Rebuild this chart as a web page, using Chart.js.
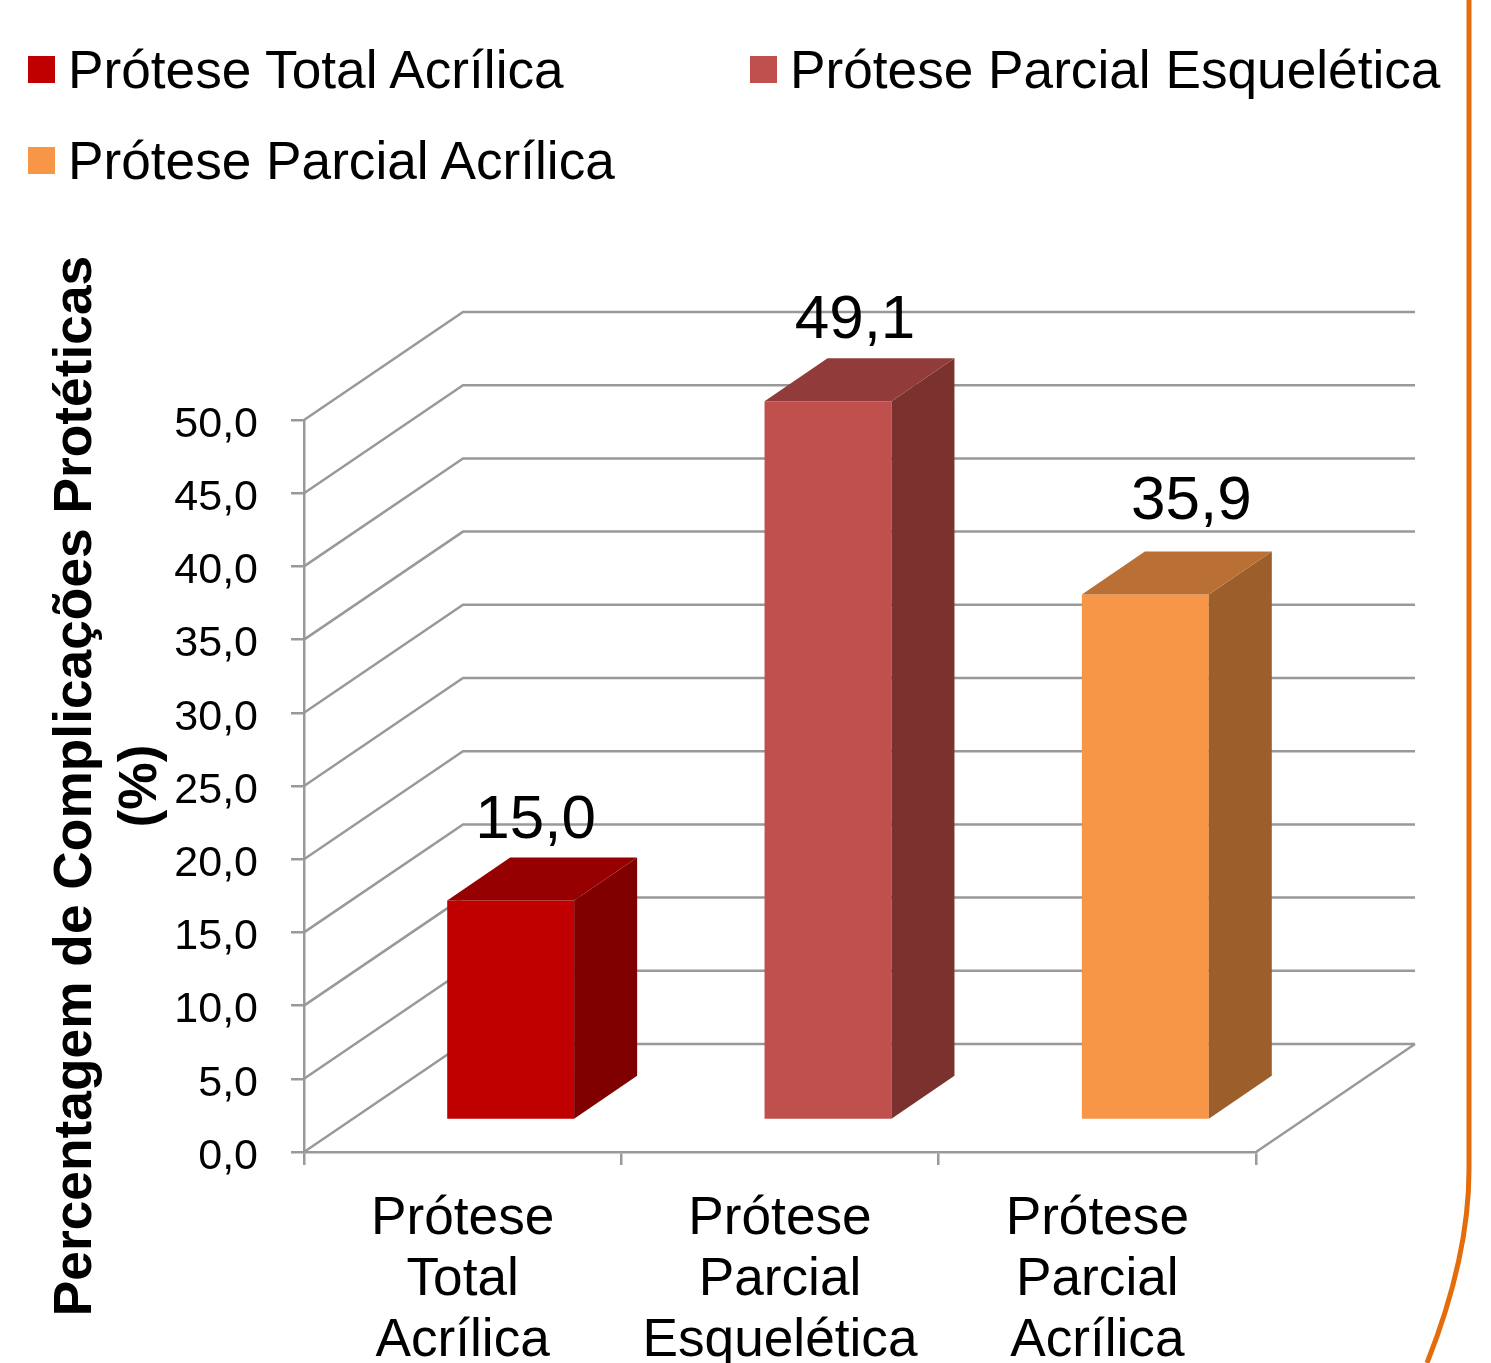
<!DOCTYPE html>
<html>
<head>
<meta charset="utf-8">
<title>Complicações Protéticas</title>
<script src="https://cdn.jsdelivr.net/npm/chart.js@4"></script>
<style>
  html, body { margin: 0; padding: 0; background: #fff; overflow: hidden; }
  canvas { display: block; }
</style>
</head>
<body>
<canvas id="chart" width="1491" height="1363"></canvas>
<script>
const categories = [
  ["Prótese", "Total", "Acrílica"],
  ["Prótese", "Parcial", "Esquelética"],
  ["Prótese", "Parcial", "Acrílica"],
];
const legendNames = ["Prótese Total Acrílica", "Prótese Parcial Esquelética", "Prótese Parcial Acrílica"];
const values = [15.0, 49.1, 35.9];
const frontColors = ["#C00000", "#C0504D", "#F79646"];
const sideColors = ["#800000", "#7B322F", "#9C5F2C"];
const topColors = ["#960000", "#913C3A", "#BA7035"];

const fontFamily = '"Liberation Sans", Arial, sans-serif';
const lineGray = "#999999";
const lineW = 2.5;

// depth of the 3d box and where the bar sits in it
const wallDx = 159, wallDy = 108;
const barDx = 48, barDy = 32;
const capDx = 63, capDy = 43;

const comma = (v) => v.toFixed(1).replace(".", ",");

const box3d = {
  id: "box3d",
  beforeDatasetsDraw(chart) {
    const { ctx, chartArea: a, scales: { y } } = chart;
    ctx.save();
    ctx.strokeStyle = lineGray;
    ctx.lineWidth = lineW;
    y.ticks.forEach((t) => {
      const py = y.getPixelForValue(t.value);
      ctx.beginPath();
      ctx.moveTo(a.left, py);
      ctx.lineTo(a.left + wallDx, py - wallDy);
      ctx.lineTo(a.right + wallDx, py - wallDy);
      ctx.stroke();
    });
    ctx.beginPath();
    ctx.moveTo(a.right, a.bottom);
    ctx.lineTo(a.right + wallDx, a.bottom - wallDy);
    ctx.stroke();
    ctx.restore();
  },
  beforeDatasetDraw(chart) {
    chart.ctx.save();
    chart.ctx.translate(barDx, -barDy);
  },
  afterDatasetDraw(chart, args) {
    const ctx = chart.ctx;
    args.meta.data.forEach((bar, i) => {
      const p = bar.getProps(["x", "y", "base", "width"], true);
      const l = p.x - p.width / 2, r = p.x + p.width / 2;
      ctx.fillStyle = sideColors[i];
      ctx.beginPath();
      ctx.moveTo(r, p.y);
      ctx.lineTo(r + capDx, p.y - capDy);
      ctx.lineTo(r + capDx, p.base - capDy);
      ctx.lineTo(r, p.base);
      ctx.closePath();
      ctx.fill();
      ctx.fillStyle = topColors[i];
      ctx.beginPath();
      ctx.moveTo(l, p.y);
      ctx.lineTo(l + capDx, p.y - capDy);
      ctx.lineTo(r + capDx, p.y - capDy);
      ctx.lineTo(r, p.y);
      ctx.closePath();
      ctx.fill();
    });
    ctx.restore();
  },
};

// value labels, nudged by hand like the original slide
const labelNudgeX = [25, 27, 46];
const labelNudgeY = [79, 80, 93];
const valueLabels = {
  id: "valueLabels",
  afterDatasetsDraw(chart) {
    const { ctx } = chart;
    const meta = chart.getDatasetMeta(0);
    ctx.save();
    ctx.fillStyle = "#000";
    ctx.font = "62px " + fontFamily;
    ctx.textAlign = "center";
    ctx.textBaseline = "middle";
    meta.data.forEach((bar, i) => {
      ctx.fillText(comma(values[i]), bar.x + barDx + labelNudgeX[i], bar.y - barDy - labelNudgeY[i]);
    });
    ctx.restore();
  },
};

// two column legend and the slide's orange border
const legendSpots = [[28, 88], [750, 88], [28, 179]];
const slideDecor = {
  id: "slideDecor",
  afterDraw(chart) {
    const { ctx } = chart;
    ctx.save();
    ctx.font = "53.2px " + fontFamily;
    ctx.fontKerning = "normal";
    ctx.textBaseline = "alphabetic";
    ctx.textAlign = "left";
    legendNames.forEach((name, i) => {
      const [x, base] = legendSpots[i];
      ctx.fillStyle = frontColors[i];
      ctx.fillRect(x, base - 32, 27, 27);
      ctx.fillStyle = "#000";
      ctx.fillText(name, x + 40, base);
    });
    ctx.strokeStyle = "#E46C0A";
    ctx.lineWidth = 5;
    ctx.beginPath();
    ctx.moveTo(1469, 0);
    ctx.lineTo(1469, 1170);
    ctx.bezierCurveTo(1469, 1240, 1450, 1305, 1427, 1363);
    ctx.stroke();
    ctx.restore();
  },
};

new Chart(document.getElementById("chart"), {
  type: "bar",
  data: {
    labels: categories,
    datasets: [
      {
        data: values,
        backgroundColor: frontColors,
        borderWidth: 0,
        categoryPercentage: 1,
        barPercentage: 0.4,
      },
    ],
  },
  plugins: [box3d, valueLabels, slideDecor],
  options: {
    responsive: false,
    animation: false,
    layout: { padding: { top: 420, right: 235, bottom: 0, left: 0 } },
    plugins: { legend: { display: false }, tooltip: { enabled: false } },
    scales: {
      x: {
        afterFit(scale) { scale.height = 211; },
        grid: { drawOnChartArea: false, color: lineGray, lineWidth: lineW, tickLength: 13 },
        border: { color: lineGray, width: lineW },
        ticks: {
          color: "#000",
          padding: 24,
          maxRotation: 0,
          autoSkip: false,
          font: { family: fontFamily, size: 53.2, lineHeight: 1.148 },
        },
      },
      y: {
        min: 0,
        max: 50,
        afterFit(scale) { scale.width = 304; },
        grid: { drawOnChartArea: false, color: lineGray, lineWidth: lineW, tickLength: 13 },
        border: { color: lineGray, width: lineW },
        ticks: {
          stepSize: 5,
          color: "#000",
          padding: 33,
          labelOffset: 5,
          callback: (v) => comma(v),
          font: { family: fontFamily, size: 43 },
        },
        title: {
          display: true,
          text: ["Percentagem de Complicações Protéticas", "(%)"],
          color: "#000",
          padding: { top: 44, bottom: 0 },
          font: { family: fontFamily, size: 53.3, weight: "bold", lineHeight: 1.22 },
        },
      },
    },
  },
});
</script>
</body>
</html>
